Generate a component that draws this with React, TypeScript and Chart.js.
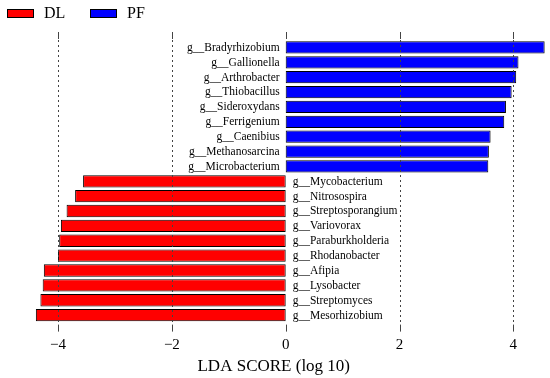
import React, { useEffect, useRef } from "react";
import { Chart, registerables } from "chart.js";

Chart.register(...registerables);

const PF_GENERA = [
  "g__Bradyrhizobium",
  "g__Gallionella",
  "g__Arthrobacter",
  "g__Thiobacillus",
  "g__Sideroxydans",
  "g__Ferrigenium",
  "g__Caenibius",
  "g__Methanosarcina",
  "g__Microbacterium",
];
const PF_SCORES = [4.55, 4.09, 4.05, 3.97, 3.87, 3.84, 3.6, 3.57, 3.56];

const DL_GENERA = [
  "g__Mycobacterium",
  "g__Nitrosospira",
  "g__Streptosporangium",
  "g__Variovorax",
  "g__Paraburkholderia",
  "g__Rhodanobacter",
  "g__Afipia",
  "g__Lysobacter",
  "g__Streptomyces",
  "g__Mesorhizobium",
];
const DL_SCORES = [-3.56, -3.7, -3.85, -3.95, -3.98, -4.0, -4.25, -4.27, -4.31, -4.39];

const X_TICKS = [-4, -2, 0, 2, 4];
const X_TITLE = "LDA SCORE (log 10)";

const FONT = '"Liberation Serif", "Times New Roman", serif';

const gridPlugin = {
  id: "ldaGrid",
  afterDatasetsDraw(chart: any) {
    const { ctx, chartArea } = chart;
    const xs = chart.scales.x;
    ctx.save();
    ctx.lineWidth = 1;
    ctx.strokeStyle = "#444";
    X_TICKS.forEach((v) => {
      const px = Math.round(xs.getPixelForValue(v)) + 0.5;
      if (v !== 0) {
        ctx.setLineDash([2, 3]);
        ctx.beginPath();
        ctx.moveTo(px, chartArea.top);
        ctx.lineTo(px, chartArea.bottom);
        ctx.stroke();
      }
      ctx.setLineDash([]);
      ctx.beginPath();
      ctx.moveTo(px, chartArea.top - 8);
      ctx.lineTo(px, chartArea.top - 1);
      ctx.moveTo(px, chartArea.bottom + 2);
      ctx.lineTo(px, chartArea.bottom + 9);
      ctx.stroke();
    });
    ctx.restore();
  },
};

const labelPlugin = {
  id: "ldaLabels",
  afterDatasetsDraw(chart: any) {
    const { ctx } = chart;
    const xs = chart.scales.x;
    const x0 = xs.getPixelForValue(0);
    ctx.save();
    ctx.font = `11.5px ${FONT}`;
    ctx.fillStyle = "#000";
    ctx.textBaseline = "middle";
    chart.data.datasets.forEach((ds: any, di: number) => {
      const meta = chart.getDatasetMeta(di);
      meta.data.forEach((el: any, i: number) => {
        const v = ds.data[i];
        if (v === null || v === undefined) return;
        const text = chart.data.labels[i];
        ctx.save();
        ctx.translate(0, el.y);
        ctx.scale(1, 1.12);
        if (v > 0) {
          ctx.textAlign = "right";
          ctx.fillText(text, x0 - 6, 0);
        } else {
          ctx.textAlign = "left";
          ctx.fillText(text, x0 + 7, 0);
        }
        ctx.restore();
      });
    });
    ctx.restore();
  },
};

const legendPlugin = {
  id: "ldaLegend",
  afterDraw(chart: any) {
    const { ctx } = chart;
    const order = [1, 0];
    const starts = [7, 90];
    ctx.save();
    ctx.font = `16px ${FONT}`;
    ctx.textBaseline = "middle";
    ctx.textAlign = "left";
    order.forEach((di, k) => {
      const ds = chart.data.datasets[di];
      const x = starts[k];
      ctx.fillStyle = ds.backgroundColor;
      ctx.fillRect(x, 9, 26, 9);
      ctx.strokeStyle = "#000";
      ctx.lineWidth = 1;
      ctx.strokeRect(x + 0.5, 9.5, 26, 8);
      ctx.fillStyle = "#000";
      ctx.fillText(ds.label, x + 37, 14);
    });
    ctx.restore();
  },
};

export default function App() {
  const canvasRef = useRef<HTMLCanvasElement | null>(null);

  useEffect(() => {
    if (!canvasRef.current) return;
    Chart.defaults.font.family = FONT;
    const labels = [...PF_GENERA, ...DL_GENERA];
    const pfData = [...PF_SCORES, ...DL_GENERA.map(() => null)];
    const dlData = [...PF_GENERA.map(() => null), ...DL_SCORES];
    const chart = new Chart(canvasRef.current, {
      type: "bar",
      data: {
        labels,
        datasets: [
          {
            label: "PF",
            data: pfData as any,
            backgroundColor: "#0000FF",
            borderColor: "#000",
            borderWidth: 1,
            borderSkipped: false,
            grouped: false,
            barPercentage: 0.83,
            categoryPercentage: 1,
          },
          {
            label: "DL",
            data: dlData as any,
            backgroundColor: "#FF0000",
            borderColor: "#000",
            borderWidth: 1,
            borderSkipped: false,
            grouped: false,
            barPercentage: 0.83,
            categoryPercentage: 1,
          },
        ],
      },
      options: {
        indexAxis: "y",
        responsive: false,
        animation: false,
        devicePixelRatio: 1,
        layout: { padding: { top: 40, right: 2.5, left: 0, bottom: 0 } },
        plugins: {
          legend: { display: false },
          tooltip: { enabled: false },
        },
        scales: {
          y: { display: false },
          x: {
            type: "linear",
            min: -5.02,
            max: 4.6,
            afterBuildTicks: (scale: any) => {
              scale.ticks = X_TICKS.map((value) => ({ value }));
            },
            grid: { display: false, drawTicks: false },
            border: { display: false },
            ticks: {
              padding: 13,
              color: "#000",
              font: { size: 15, family: FONT },
              maxRotation: 0,
              autoSkip: false,
              callback: (v: any) => (Number(v) < 0 ? "\u2212" + Math.abs(Number(v)) : String(v)),
            },
            title: {
              display: true,
              text: X_TITLE,
              color: "#000",
              font: { size: 17, family: FONT },
              padding: { top: -10, bottom: 1 },
            },
          },
        },
      },
      plugins: [gridPlugin, labelPlugin, legendPlugin],
    });
    return () => chart.destroy();
  }, []);

  return (
    <div style={{ position: "fixed", left: 0, top: 0, width: 550, height: 378, background: "#fff" }}>
      <canvas ref={canvasRef} width={550} height={378} />
    </div>
  );
}
